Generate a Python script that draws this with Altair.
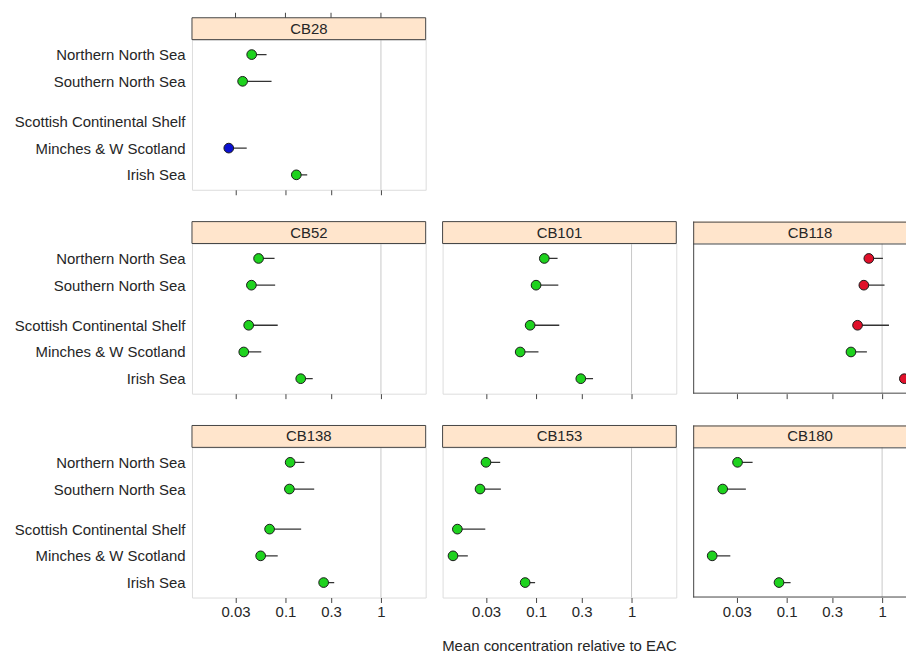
import altair as alt
import pandas as pd

# ---------------- data ----------------
congeners = ["CB28", "CB52", "CB101", "CB118", "CB138", "CB153", "CB180"]
regions = ["Northern North Sea", "Southern North Sea", "Scottish Continental Shelf",
           "Minches & W Scotland", "Irish Sea"]

# mean concentration relative to EAC (None = not assessed)
mean_cb28 = [0.0443, 0.0356, None, 0.0255, 0.130]
mean_cb52 = [0.0523, 0.0440, 0.0412, 0.0366, 0.1445]
mean_cb101 = [0.122, 0.100, 0.0867, 0.0682, 0.294]
mean_cb118 = [0.726, 0.644, 0.553, 0.472, 1.71]
mean_cb138 = [0.112, 0.110, 0.0682, 0.0550, 0.251]
mean_cb153 = [0.0299, 0.0259, 0.0150, 0.0135, 0.0769]
mean_cb180 = [0.0306, 0.0214, None, 0.0166, 0.0832]

# upper confidence limit
upper_cb28 = [0.0634, 0.0715, None, 0.0393, 0.169]
upper_cb52 = [0.0769, 0.078, 0.083, 0.0558, 0.193]
upper_cb101 = [0.168, 0.171, 0.175, 0.106, 0.395]
upper_cb118 = [1.02, 1.06, 1.18, 0.693, 2.2]
upper_cb138 = [0.158, 0.200, 0.146, 0.083, 0.324]
upper_cb153 = [0.0421, 0.0428, 0.0294, 0.0193, 0.0977]
upper_cb180 = [0.0440, 0.0374, None, 0.0257, 0.110]

# assessment status
status_cb28 = ["below EAC", "below EAC", None, "below BAC", "below EAC"]
status_cb52 = ["below EAC"] * 5
status_cb101 = ["below EAC"] * 5
status_cb118 = ["above EAC", "above EAC", "above EAC", "below EAC", "above EAC"]
status_cb138 = ["below EAC"] * 5
status_cb153 = ["below EAC"] * 5
status_cb180 = ["below EAC", "below EAC", None, "below EAC", "below EAC"]

tick_values = [0.03, 0.1, 0.3, 1]
x_title = "Mean concentration relative to EAC"

means = [mean_cb28, mean_cb52, mean_cb101, mean_cb118, mean_cb138, mean_cb153, mean_cb180]
uppers = [upper_cb28, upper_cb52, upper_cb101, upper_cb118, upper_cb138, upper_cb153, upper_cb180]
statuses = [status_cb28, status_cb52, status_cb101, status_cb118, status_cb138, status_cb153, status_cb180]

# layout: vertical slot of each region (gap between North Sea and the rest)
region_slot = [0, 1, 2.5, 3.5, 4.5]

rows = []
for c, m, u, s in zip(congeners, means, uppers, statuses):
    for r, slot, mv, uv, sv in zip(regions, region_slot, m, u, s):
        if mv is None:
            continue
        rows.append({"congener": c, "region": r, "slot": slot, "mean": mv,
                     "upper": uv, "status": sv})
df = pd.DataFrame(rows)

# ---------------- style ----------------
FONT = "Liberation Sans"
W, H, STRIP = 235, 151, 22
W_CUT = 214          # right-hand column is cut off by the page edge
TEXT = "#262626"
FRAME = "#444444"

XMIN, XMAX = 0.0105, 2.94
XMAX_CUT = 10 ** (-1.9788 + W_CUT / 96.0)

yscale = alt.Scale(domain=[-0.56, 5.06], reverse=True, nice=False, zero=False)
cscale = alt.Scale(domain=["below BAC", "below EAC", "above EAC"],
                   range=["#0a10d0", "#1ed21e", "#e0102a"])

label_expr = " : ".join(
    f"datum.value == {slot} ? '{reg}'" for slot, reg in zip(region_slot, regions)
) + " : ''"


def panel(name, row, col):
    d = df[df.congener == name]
    cut = col == 2
    w = W_CUT if cut else W
    xscale = alt.Scale(type="log", domain=[XMIN, XMAX_CUT if cut else XMAX], nice=False)
    if col == 0:
        y_axis = alt.Axis(values=region_slot, labelExpr=label_expr, ticks=False, tickSize=0,
                          domain=False, grid=False, title=None, labelFontSize=15,
                          labelPadding=7, labelColor=TEXT, labelFont=FONT)
    else:
        y_axis = None
    if row == 2:
        x_axis = alt.Axis(values=tick_values, format="~g", labelFontSize=15, tickSize=5,
                          domain=False, grid=False, title=None, labelPadding=2,
                          tickColor=FRAME, labelColor=TEXT, labelFont=FONT, labelFlush=False)
    else:
        x_axis = alt.Axis(values=tick_values, labels=False, tickSize=5, domain=False,
                          grid=False, title=None, tickColor=FRAME)

    ref = alt.Chart(pd.DataFrame({"v": [1]})).mark_rule(color="#c8c8c8", strokeWidth=1).encode(
        x=alt.X("v:Q", scale=xscale, axis=x_axis))
    err = alt.Chart(d).mark_rule(color="#333333", strokeWidth=1.3, clip=True).encode(
        x=alt.X("mean:Q", scale=xscale, axis=x_axis),
        x2="upper:Q",
        y=alt.Y("slot:Q", scale=yscale, axis=y_axis))
    pts = alt.Chart(d).mark_circle(size=95, opacity=1, stroke="#1a1a1a", strokeWidth=1,
                                   clip=True).encode(
        x=alt.X("mean:Q", scale=xscale, axis=x_axis),
        y=alt.Y("slot:Q", scale=yscale, axis=y_axis),
        color=alt.Color("status:N", scale=cscale, legend=None))
    sdf = pd.DataFrame({"congener": [name]})
    if cut:
        strip = alt.Chart(sdf).mark_rect(fill="#ffe5cc").encode(
            x=alt.value(0), x2=alt.value(w), y=alt.value(-STRIP), y2=alt.value(0))
    else:
        strip = alt.Chart(sdf).mark_rect(fill="#ffe5cc", stroke=FRAME, strokeWidth=1).encode(
            x=alt.value(0), x2=alt.value(w), y=alt.value(-STRIP), y2=alt.value(0))
    stext = alt.Chart(sdf).mark_text(fontSize=15, color=TEXT, font=FONT, baseline="middle").encode(
        text="congener:N", x=alt.value(W / 2), y=alt.value(-STRIP / 2))
    layers = [ref, err, pts, strip, stext]
    if cut:
        # frame without right edge
        fr = alt.Chart(sdf)
        layers += [
            fr.mark_rule(color=FRAME, strokeWidth=1).encode(
                x=alt.value(0.5), y=alt.value(-STRIP), y2=alt.value(H)),
            fr.mark_rule(color=FRAME, strokeWidth=1).encode(
                x=alt.value(0), x2=alt.value(w), y=alt.value(-STRIP + 0.5)),
            fr.mark_rule(color=FRAME, strokeWidth=1).encode(
                x=alt.value(0), x2=alt.value(w), y=alt.value(0.5)),
            fr.mark_rule(color=FRAME, strokeWidth=1).encode(
                x=alt.value(0), x2=alt.value(w), y=alt.value(H - 0.5)),
        ]
    if row == 0:
        tops = alt.Chart(pd.DataFrame({"t": tick_values})).mark_rule(color=FRAME).encode(
            x=alt.X("t:Q", scale=xscale, axis=x_axis),
            y=alt.value(-STRIP - 5), y2=alt.value(-STRIP))
        layers.append(tops)
    if row == 2 and col == 1:
        title = alt.Chart(pd.DataFrame({"t": [x_title]})).mark_text(
            fontSize=15, color=TEXT, font=FONT, baseline="middle").encode(
            text="t:N", x=alt.value(W / 2), y=alt.value(H + 49))
        layers.append(title)
    ch = alt.layer(*layers).properties(width=w, height=H)
    if cut:
        ch = ch.properties(view=alt.ViewBackground(stroke="transparent"))
    return ch


row1 = alt.hconcat(panel("CB28", 0, 0))
row2 = alt.hconcat(panel("CB52", 1, 0), panel("CB101", 1, 1), panel("CB118", 1, 2), spacing=15)
row3 = alt.hconcat(panel("CB138", 2, 0), panel("CB153", 2, 1), panel("CB180", 2, 2), spacing=15)

chart = alt.vconcat(row1, row2, row3, spacing=25).properties(
    padding={"left": 5, "top": 2, "right": 0, "bottom": 0}
).configure_view(stroke=FRAME, strokeWidth=1).configure(font=FONT, background="white")

chart.save("out.html", embed_options={"renderer": "svg", "actions": False})
